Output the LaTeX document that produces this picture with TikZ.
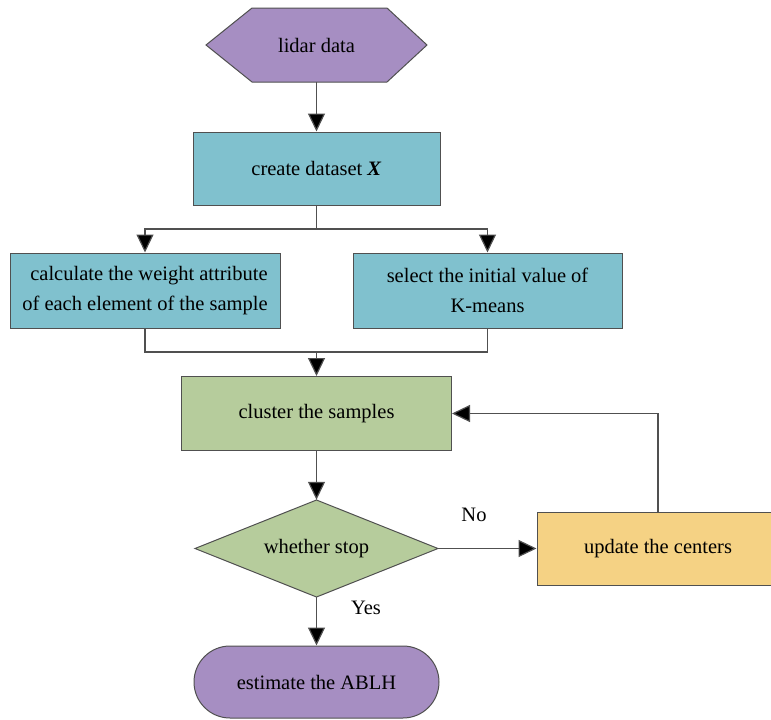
\documentclass[tikz,border=0pt]{standalone}
\usepackage{fontspec}
\setmainfont{Liberation Serif}
\usetikzlibrary{arrows.meta,shapes.geometric}
\definecolor{cpurple}{RGB}{166,142,194}
\definecolor{cteal}{RGB}{128,193,206}
\definecolor{cgreen}{RGB}{182,204,156}
\definecolor{cyellow}{RGB}{245,210,132}
\definecolor{cline}{RGB}{80,80,80}
\begin{document}
\begin{tikzpicture}[x=1pt,y=-1pt,
  every node/.style={font=\fontsize{20.5}{30}\selectfont, text=black},
  boxstyle/.style={draw=cline, line width=1pt, rectangle, inner sep=0pt},
  conn/.style={draw=cline, line width=1.2pt},
  arr/.style={conn, -{Triangle[width=17pt,length=18pt,fill=black]}}]
\useasboundingbox (0,0) rectangle (771,720);
% hexagon
\filldraw[fill=cpurple, draw=cline, line width=1pt]
  (206,45) -- (252,8) -- (387,8) -- (427,45) -- (387,82) -- (252,82) -- cycle;
\node (lidar) [minimum width=221pt, minimum height=74pt, inner sep=0pt] at (316.5,45) {lidar data};
\node (create) [boxstyle, fill=cteal, minimum width=247pt, minimum height=73pt] at (316.5,168.5) {create dataset \textbf{\textit{X}}};
\node (calc) [boxstyle, fill=cteal, minimum width=270pt, minimum height=75pt, align=right] at (145,290.5) {calculate the weight attribute\\of each element of the sample};
\node (select) [boxstyle, fill=cteal, minimum width=269pt, minimum height=75pt, align=center] at (487.5,290.5) {select the initial value of\\K-means};
\node (cluster) [boxstyle, fill=cgreen, minimum width=270pt, minimum height=74pt] at (316.5,413.5) {cluster the samples};
% diamond
\filldraw[fill=cgreen, draw=cline, line width=1pt]
  (195,548.5) -- (316.5,500) -- (438,548.5) -- (316.5,597) -- cycle;
\node (stop) [minimum width=243pt, minimum height=97pt, inner sep=0pt] at (316.5,548.5) {whether stop};
\node (update) [boxstyle, fill=cyellow, minimum width=242pt, minimum height=73pt] at (658,548.5) {update the centers};
\node (est) [boxstyle, fill=cpurple, rounded corners=36pt, minimum width=245pt, minimum height=72pt] at (316.5,682) {estimate the ABLH};
\node (no) at (474,515) {No};
\node (yes) at (366,608) {Yes};
% connectors
\coordinate (split) at (316.5,229);
\coordinate (merge) at (316.5,352);
\draw[arr] (lidar.south) -- (create.north);
\draw[conn] (create.south) -- (split);
\draw[arr] (split) -| (calc.north);
\draw[arr] (split) -| (select.north);
\draw[conn] (calc.south) |- (merge);
\draw[conn] (select.south) |- (merge);
\draw[arr] (merge) -- (cluster.north);
\draw[arr] (cluster.south) -- (stop.north);
\draw[arr] (stop.east) -- (update.west);
\draw[arr] (update.north) |- (cluster.east);
\draw[arr] (stop.south) -- (est.north);
\end{tikzpicture}
\end{document}
